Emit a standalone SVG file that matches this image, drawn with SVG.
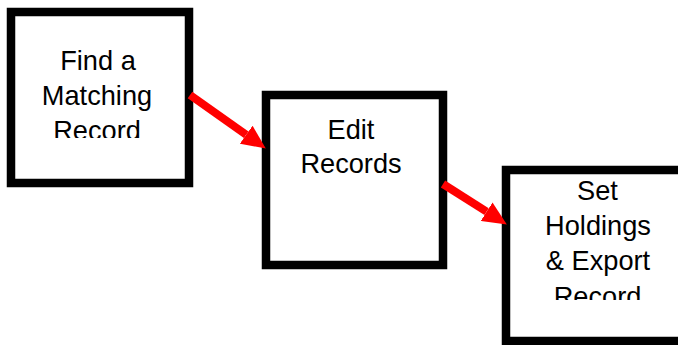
<svg xmlns="http://www.w3.org/2000/svg" width="678" height="345" viewBox="0 0 678 345">
<style>
.box{fill:#ffffff;stroke:#000000;stroke-width:8.5}
.lbl{font-family:"Liberation Sans",Arial,sans-serif;font-size:27.2px;fill:#000000;text-anchor:middle}
.arr{stroke:#ff0000;stroke-width:8;fill:none}
</style>
<defs>
<marker id="ah" markerUnits="userSpaceOnUse" markerWidth="24" markerHeight="22" refX="0" refY="11" orient="auto" viewBox="0 0 24 22">
<path d="M0,0 L24,11 L0,22 z" fill="#ff0000"/>
</marker>
<clipPath id="c1"><rect x="15" y="16" width="170" height="122"/></clipPath>
<clipPath id="c3"><rect x="510" y="174" width="168" height="126"/></clipPath>
</defs>
<rect width="678" height="345" fill="#ffffff"/>
<g id="node1">
<rect class="box" x="11" y="12" width="178" height="171"/>
<g clip-path="url(#c1)">
<text class="lbl" x="98" y="69.5">Find a</text>
<text class="lbl" x="97" y="104.5">Matching</text>
<text class="lbl" x="97" y="139.7">Record</text>
</g>
</g>
<g id="node2">
<rect class="box" x="266" y="95" width="177" height="170"/>
<text class="lbl" x="351" y="139.3">Edit</text>
<text class="lbl" x="351" y="172.8">Records</text>
</g>
<g id="node3">
<rect class="box" x="506" y="170" width="190" height="171"/>
<g clip-path="url(#c3)">
<text class="lbl" x="597.5" y="200">Set</text>
<text class="lbl" x="598" y="235">Holdings</text>
<text class="lbl" x="598" y="269.5">&amp; Export</text>
<text class="lbl" x="597.5" y="305.7">Record</text>
</g>
</g>
<g id="connectors">
<line class="arr" x1="190" y1="95" x2="246.2" y2="134.7" marker-end="url(#ah)"/>
<line class="arr" x1="443" y1="184" x2="486.6" y2="211.7" marker-end="url(#ah)"/>
</g>
</svg>
